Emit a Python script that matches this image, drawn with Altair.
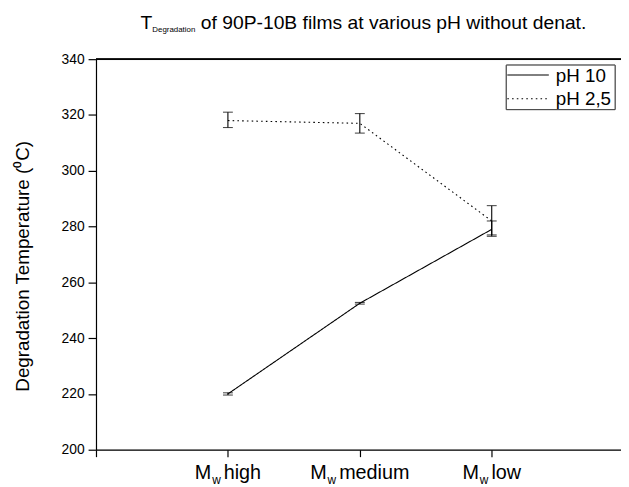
import altair as alt
import pandas as pd

# ---- data ----
categories = ["high", "medium", "low"]
positions = [1, 2, 3]
series_names = ["pH 10", "pH 2,5"]
ph10_mean = [220.0, 252.5, 279.0]
ph10_low = [219.6, 252.2, 276.5]
ph10_high = [220.4, 252.8, 282.0]
ph25_mean = [318.0, 317.0, 282.0]
ph25_low = [315.5, 313.5, 277.0]
ph25_high = [321.0, 320.5, 287.5]
y_ticks = [200, 210, 220, 230, 240, 250, 260, 270, 280, 290, 300, 310, 320, 330, 340]
x_ticks = [0, 1, 2, 3]
title_main = "of 90P-10B films at various pH without denat."
title_T = "T"
title_sub = "Degradation"
y_title = "Degradation Temperature (\u2070C)"

rows = []
for s, means, lows, highs in [
    (series_names[0], ph10_mean, ph10_low, ph10_high),
    (series_names[1], ph25_mean, ph25_low, ph25_high),
]:
    for c, p, m, lo, hi in zip(categories, positions, means, lows, highs):
        rows.append({"series": s, "cat": c, "pos": p, "mean": m, "lo": lo, "hi": hi})
df = pd.DataFrame(rows)
cat_df = pd.DataFrame({"cat": categories, "pos": positions})

W, H = 531, 395
FONT = "Liberation Sans"
DASHES = [[1, 0], [1.6, 3.2]]
xscale = alt.Scale(domain=[0, 3.98], nice=False, zero=False)
yscale = alt.Scale(domain=[200, 340], nice=False, zero=False)

# approximate Arial em widths for label layout
EM = {"h": .556, "i": .222, "g": .556, "m": .833, "e": .556, "d": .556,
      "u": .556, "l": .222, "o": .556, "w": .722, "M": .833}


def tw(s, size):
    return sum(EM.get(ch, .556) for ch in s) * size


base = alt.Chart(df)

lines = base.mark_line(color="black", strokeWidth=1.1).encode(
    x=alt.X("pos:Q", scale=xscale,
            axis=alt.Axis(values=x_ticks, labels=False, title=None, tickSize=7,
                          grid=False, domainColor="black", tickColor="black",
                          domainWidth=1.2, tickWidth=1.2)),
    y=alt.Y("mean:Q", scale=yscale,
            axis=alt.Axis(values=y_ticks, title=y_title, grid=False,
                          labelExpr="datum.value % 20 === 0 ? datum.label : ''",
                          tickSize={"condition": {"test": "datum.value % 20 === 0", "value": 8}, "value": 4},
                          labelFontSize=14, labelPadding=4, labelColor="black",
                          titleFontSize=19, titleFontWeight="normal", titleColor="black",
                          titleX=-74, titleY=209, titleAngle=270, titleAlign="center",
                          titleBaseline="middle",
                          domainColor="black", tickColor="black",
                          domainWidth=1.2, tickWidth=1.2)),
    strokeDash=alt.StrokeDash("series:N",
                              scale=alt.Scale(domain=series_names, range=DASHES),
                              legend=None),
)

err_rule = base.mark_rule(color="black", strokeWidth=1.1).encode(
    x=alt.X("pos:Q", scale=xscale), y=alt.Y("lo:Q", scale=yscale), y2="hi:Q")
cap_lo = base.mark_tick(orient="horizontal", size=10, thickness=1.1, color="black").encode(
    x=alt.X("pos:Q", scale=xscale), y=alt.Y("lo:Q", scale=yscale))
cap_hi = base.mark_tick(orient="horizontal", size=10, thickness=1.1, color="black").encode(
    x=alt.X("pos:Q", scale=xscale), y=alt.Y("hi:Q", scale=yscale))

top_border = alt.Chart(cat_df).mark_rule(color="black", strokeWidth=1.2).encode(
    x=alt.value(0), x2=alt.value(W), y=alt.value(0))

layers = [top_border, lines, err_rule, cap_lo, cap_hi]

# ---- legend box (drawn as marks) ----
leg = alt.Chart(pd.DataFrame({"series": series_names}))
layers.append(leg.mark_rect(fill="white", stroke="#444", strokeWidth=1).encode(
    x=alt.value(415), x2=alt.value(525), y=alt.value(6), y2=alt.value(51)))
for i, s in enumerate(series_names):
    src = leg.transform_filter(alt.datum.series == s)
    layers.append(src.mark_rule(color="black", strokeWidth=1.1, strokeDash=DASHES[i]).encode(
        x=alt.value(416), x2=alt.value(458), y=alt.value(16 + 24 * i)))
    layers.append(src.mark_text(align="left", baseline="middle", fontSize=19, font=FONT,
                                color="black").encode(
        x=alt.value(465), y=alt.value(17 + 23 * i), text="series:N"))

# x category labels "M_w <name>"
M_SIZE, W_SIZE = 20, 12
for c in categories:
    wM = tw("M", M_SIZE)
    ww = tw("w", W_SIZE)
    total = wM + 1.0 + ww + 3 + tw(c, M_SIZE)
    left = -total / 2
    src = alt.Chart(cat_df).transform_filter(alt.datum.cat == c)
    layers.append(src.mark_text(align="left", baseline="alphabetic", fontSize=M_SIZE,
                                font=FONT, color="black", dx=left).encode(
        x=alt.X("pos:Q", scale=xscale), y=alt.value(H + 30), text=alt.value("M")))
    layers.append(src.mark_text(align="left", baseline="alphabetic", fontSize=W_SIZE,
                                font=FONT, color="black", dx=left + wM + 1.0).encode(
        x=alt.X("pos:Q", scale=xscale), y=alt.value(H + 35), text=alt.value("w")))
    layers.append(src.mark_text(align="left", baseline="alphabetic", fontSize=M_SIZE,
                                font=FONT, color="black", dx=left + wM + 1.0 + ww + 3).encode(
        x=alt.X("pos:Q", scale=xscale), y=alt.value(H + 30), text="cat:N"))

# title with subscript
tsrc = alt.Chart(pd.DataFrame({"t": [title_main]}))
layers.append(tsrc.mark_text(align="left", baseline="alphabetic", fontSize=19.5, font=FONT,
                             color="black").encode(x=alt.value(45), y=alt.value(-31),
                                                   text=alt.value(title_T)))
layers.append(tsrc.mark_text(align="left", baseline="alphabetic", fontSize=8, font=FONT,
                             color="black").encode(x=alt.value(57), y=alt.value(-27),
                                                   text=alt.value(title_sub)))
layers.append(tsrc.mark_text(align="left", baseline="alphabetic", fontSize=19.5, font=FONT,
                             color="black").encode(x=alt.value(106), y=alt.value(-31),
                                                   text="t:N"))

chart = alt.layer(*layers).properties(
    width=W, height=H,
    autosize=alt.AutoSizeParams(type="none"),
    padding={"left": 89, "top": 49, "right": 0, "bottom": 40},
).configure_view(stroke=None).configure(font=FONT)

chart.save("out.html", embed_options={"renderer": "svg", "actions": False})
